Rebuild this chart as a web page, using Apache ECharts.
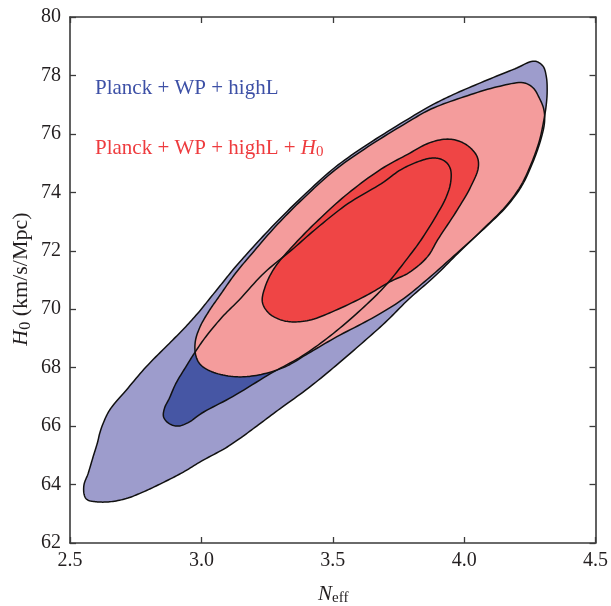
<!DOCTYPE html>
<html><head><meta charset="utf-8">
<script src="https://cdn.jsdelivr.net/npm/echarts@6.0.0/dist/echarts.min.js"></script>
<style>html,body{margin:0;padding:0;background:#fff}#c{width:611px;height:606px}</style>
</head><body><div id="c"></div>
<script>
// Axis ticks
const xTicks = [2.5, 3.0, 3.5, 4.0, 4.5];
const yTicks = [62, 64, 66, 68, 70, 72, 74, 76, 78, 80];

// Legend labels
const labelBlue = 'Planck + WP + highL';
const labelRed = 'Planck + WP + highL + ';

// Planck + WP + highL, 95% contour (N_eff, H0)
const blueOuter = [
  [4.268,78.49],[4.300,78.32],[4.313,77.95],[4.316,77.45],[4.312,76.95],[4.302,76.40],[4.286,75.75],
  [4.254,74.95],[4.214,74.20],[4.156,73.50],[4.073,72.75],[3.975,71.90],[3.885,71.10],[3.790,70.35],
  [3.700,69.55],[3.600,68.75],[3.500,67.98],[3.407,67.30],[3.300,66.60],[3.218,66.05],[3.150,65.60],
  [3.092,65.25],[3.000,64.80],[2.930,64.42],[2.850,64.05],[2.777,63.74],[2.714,63.52],[2.651,63.41],
  [2.600,63.41],[2.566,63.48],[2.555,63.62],[2.553,63.98],[2.569,64.38],[2.588,64.95],[2.605,65.45],
  [2.613,65.75],[2.626,66.09],[2.651,66.55],[2.714,67.23],[2.790,68.03],[2.878,68.83],[2.935,69.35],
  [2.990,69.90],[3.035,70.40],[3.080,70.90],[3.125,71.40],[3.178,71.94],[3.275,72.88],[3.382,73.83],
  [3.508,74.85],[3.634,75.65],[3.785,76.50],[3.870,76.95],[3.960,77.35],[4.076,77.80],[4.194,78.23]
];

// Planck + WP + highL, 68% contour
const blueInner = [
  [2.909,66.00],[2.875,66.10],[2.856,66.32],[2.860,66.62],[2.878,66.95],[2.903,67.46],[2.941,68.03],
  [2.973,68.49],[3.017,69.06],[3.080,69.74],[3.143,70.31],[3.240,71.25],[3.344,72.03],[3.440,72.78],
  [3.559,73.62],[3.685,74.30],[3.760,74.78],[3.825,75.05],[3.874,75.17],[3.910,75.14],[3.935,75.00],
  [3.949,74.76],[3.948,74.30],[3.930,73.80],[3.899,73.28],[3.836,72.37],[3.785,71.75],[3.700,70.80],
  [3.620,70.09],[3.502,69.17],[3.384,68.40],[3.266,67.81],[3.119,67.01],[3.001,66.44],[2.950,66.12]
];

// Planck + WP + highL + H0, 95% contour
const redOuter = [
  [3.067,70.43],[3.030,69.95],[2.995,69.40],[2.977,68.90],[2.978,68.45],[2.995,68.12],[3.040,67.86],
  [3.130,67.69],[3.218,67.75],[3.319,68.03],[3.407,68.49],[3.516,69.06],[3.649,69.69],[3.760,70.30],
  [3.870,71.10],[3.970,71.90],[4.075,72.75],[4.160,73.50],[4.218,74.20],[4.258,74.95],[4.290,75.75],
  [4.306,76.40],[4.303,76.85],[4.285,77.25],[4.262,77.58],[4.225,77.75],[4.126,77.61],[4.000,77.27],
  [3.874,76.85],[3.785,76.40],[3.634,75.56],[3.508,74.76],[3.382,73.74],[3.281,72.82],[3.193,71.91],
  [3.130,71.23]
];

// Planck + WP + highL + H0, 68% contour
const redInner = [
  [3.232,70.25],[3.255,69.88],[3.295,69.66],[3.340,69.57],[3.410,69.62],[3.508,69.95],[3.634,70.50],
  [3.720,70.95],[3.790,71.25],[3.861,71.80],[3.899,72.37],[3.974,73.40],[4.025,74.19],[4.054,74.85],
  [4.048,75.25],[4.005,75.65],[3.944,75.82],[3.870,75.70],[3.785,75.30],[3.685,74.80],[3.559,73.97],
  [3.445,73.05],[3.357,72.25],[3.281,71.45],[3.244,70.80]
];

const layers = [
  {pts: blueOuter, fill: '#9d9ccc'},
  {pts: blueInner, fill: '#4656a4'},
  {pts: redOuter, fill: '#f49c9c'},
  {pts: redInner, fill: '#ef4545'}
];

// closed centripetal Catmull-Rom through pixel points (drawing helper)
function spline(P, steps) {
  const n = P.length, out = [];
  function d(a, b) { return Math.max(Math.pow(Math.hypot(b[0]-a[0], b[1]-a[1]), 0.5), 1e-4); }
  function lerp(a, b, ta, tb, t) {
    const u = (t - ta) / (tb - ta);
    return [a[0] + (b[0]-a[0])*u, a[1] + (b[1]-a[1])*u];
  }
  for (let i = 0; i < n; i++) {
    const p0 = P[(i-1+n)%n], p1 = P[i], p2 = P[(i+1)%n], p3 = P[(i+2)%n];
    const t0 = 0, t1 = t0 + d(p0,p1), t2 = t1 + d(p1,p2), t3 = t2 + d(p2,p3);
    for (let s = 0; s < steps; s++) {
      const t = t1 + (t2 - t1) * s / steps;
      const A1 = lerp(p0,p1,t0,t1,t), A2 = lerp(p1,p2,t1,t2,t), A3 = lerp(p2,p3,t2,t3,t);
      const B1 = lerp(A1,A2,t0,t2,t), B2 = lerp(A2,A3,t1,t3,t);
      out.push(lerp(B1,B2,t1,t2,t));
    }
  }
  return out;
}

function polySeries(pts, fill, stroke, z) {
  return {
    type: 'custom', coordinateSystem: 'cartesian2d', xAxisIndex: 0, yAxisIndex: 0,
    data: pts, silent: true, z: z, clip: true,
    renderItem: function (params, api) {
      if (params.dataIndex !== 0) return;
      const p = spline(pts.map(function (d) { return api.coord(d); }), 10);
      return {
        type: 'polygon',
        shape: {points: p},
        style: {fill: fill, stroke: stroke, lineWidth: 1.5, lineJoin: 'round'}
      };
    }
  };
}

const series = [];
layers.forEach(function (l, i) { series.push(polySeries(l.pts, l.fill, 'none', 2 + i)); });
layers.forEach(function (l, i) { series.push(polySeries(l.pts, 'none', '#111', 10 + i)); });

const font = 'Liberation Serif';
const axisCommon = {
  axisLine: {show: true, lineStyle: {color: '#3a3a3a', width: 1.6}},
  axisTick: {show: true, inside: true, length: 6, lineStyle: {color: '#3a3a3a', width: 1.3}},
  splitLine: {show: false}
};

const chart = echarts.init(document.getElementById('c'), null, {renderer: 'canvas'});
chart.setOption({
  animation: false,
  backgroundColor: '#fff',
  grid: {left: 70, right: 12, top: 17, bottom: 63, containLabel: false},
  xAxis: [
    Object.assign({type: 'value', min: xTicks[0], max: xTicks[xTicks.length - 1], interval: 0.5, position: 'bottom',
      axisLabel: {margin: 8, fontFamily: font, fontSize: 20, color: '#231f20',
        formatter: function (v) { return v.toFixed(1); }}}, axisCommon),
    Object.assign({type: 'value', min: xTicks[0], max: xTicks[xTicks.length - 1], interval: 0.5, position: 'top',
      axisLabel: {show: false}}, axisCommon)
  ],
  yAxis: [
    Object.assign({type: 'value', min: yTicks[0], max: yTicks[yTicks.length - 1], interval: 2, position: 'left',
      axisLabel: {margin: 9, fontFamily: font, fontSize: 20, color: '#231f20'}}, axisCommon),
    Object.assign({type: 'value', min: yTicks[0], max: yTicks[yTicks.length - 1], interval: 2, position: 'right',
      axisLabel: {show: false}}, axisCommon)
  ],
  series: series,
  graphic: [
    {type: 'text', left: 95, top: 78, z: 50, style: {text: labelBlue, fontFamily: font, fontSize: 21, fill: '#3d50a6'}},
    {type: 'text', left: 95, top: 133, z: 50, style: {
      text: '{n|' + labelRed + '}{i|H}{s|0}', fontFamily: font, fontSize: 21, fill: '#ee3b3e',
      rich: {
        n: {fontFamily: font, fontSize: 21, fill: '#ee3b3e', lineHeight: 22, verticalAlign: 'top'},
        i: {fontFamily: font, fontSize: 21, fontStyle: 'italic', fill: '#ee3b3e', lineHeight: 22, verticalAlign: 'top'},
        s: {fontFamily: font, fontSize: 15, fill: '#ee3b3e', lineHeight: 15, padding: [12, 0, 0, 0], verticalAlign: 'bottom'}
      }}},
    {type: 'text', left: 318, top: 579, z: 50, style: {
      text: '{i|N}{s|eff}', fontFamily: font,
      rich: {
        i: {fontFamily: font, fontSize: 21, fontStyle: 'italic', fill: '#231f20', lineHeight: 22, verticalAlign: 'top'},
        s: {fontFamily: font, fontSize: 15, fill: '#231f20', lineHeight: 15, padding: [12, 0, 0, 0], verticalAlign: 'bottom'}
      }}},
    {type: 'text', x: 22, y: 279, rotation: Math.PI / 2, z: 50, style: {
      text: '{i|H}{s|0}{n| (km/s/Mpc)}', fontFamily: font, align: 'center', verticalAlign: 'middle',
      rich: {
        i: {fontFamily: font, fontSize: 22, fontStyle: 'italic', fill: '#231f20', lineHeight: 23, verticalAlign: 'top'},
        s: {fontFamily: font, fontSize: 16, fill: '#231f20', lineHeight: 16, padding: [12, 0, 0, 0], verticalAlign: 'bottom'},
        n: {fontFamily: font, fontSize: 22, fill: '#231f20', lineHeight: 23, verticalAlign: 'top'}
      }}}
  ]
});
</script>
</body></html>
